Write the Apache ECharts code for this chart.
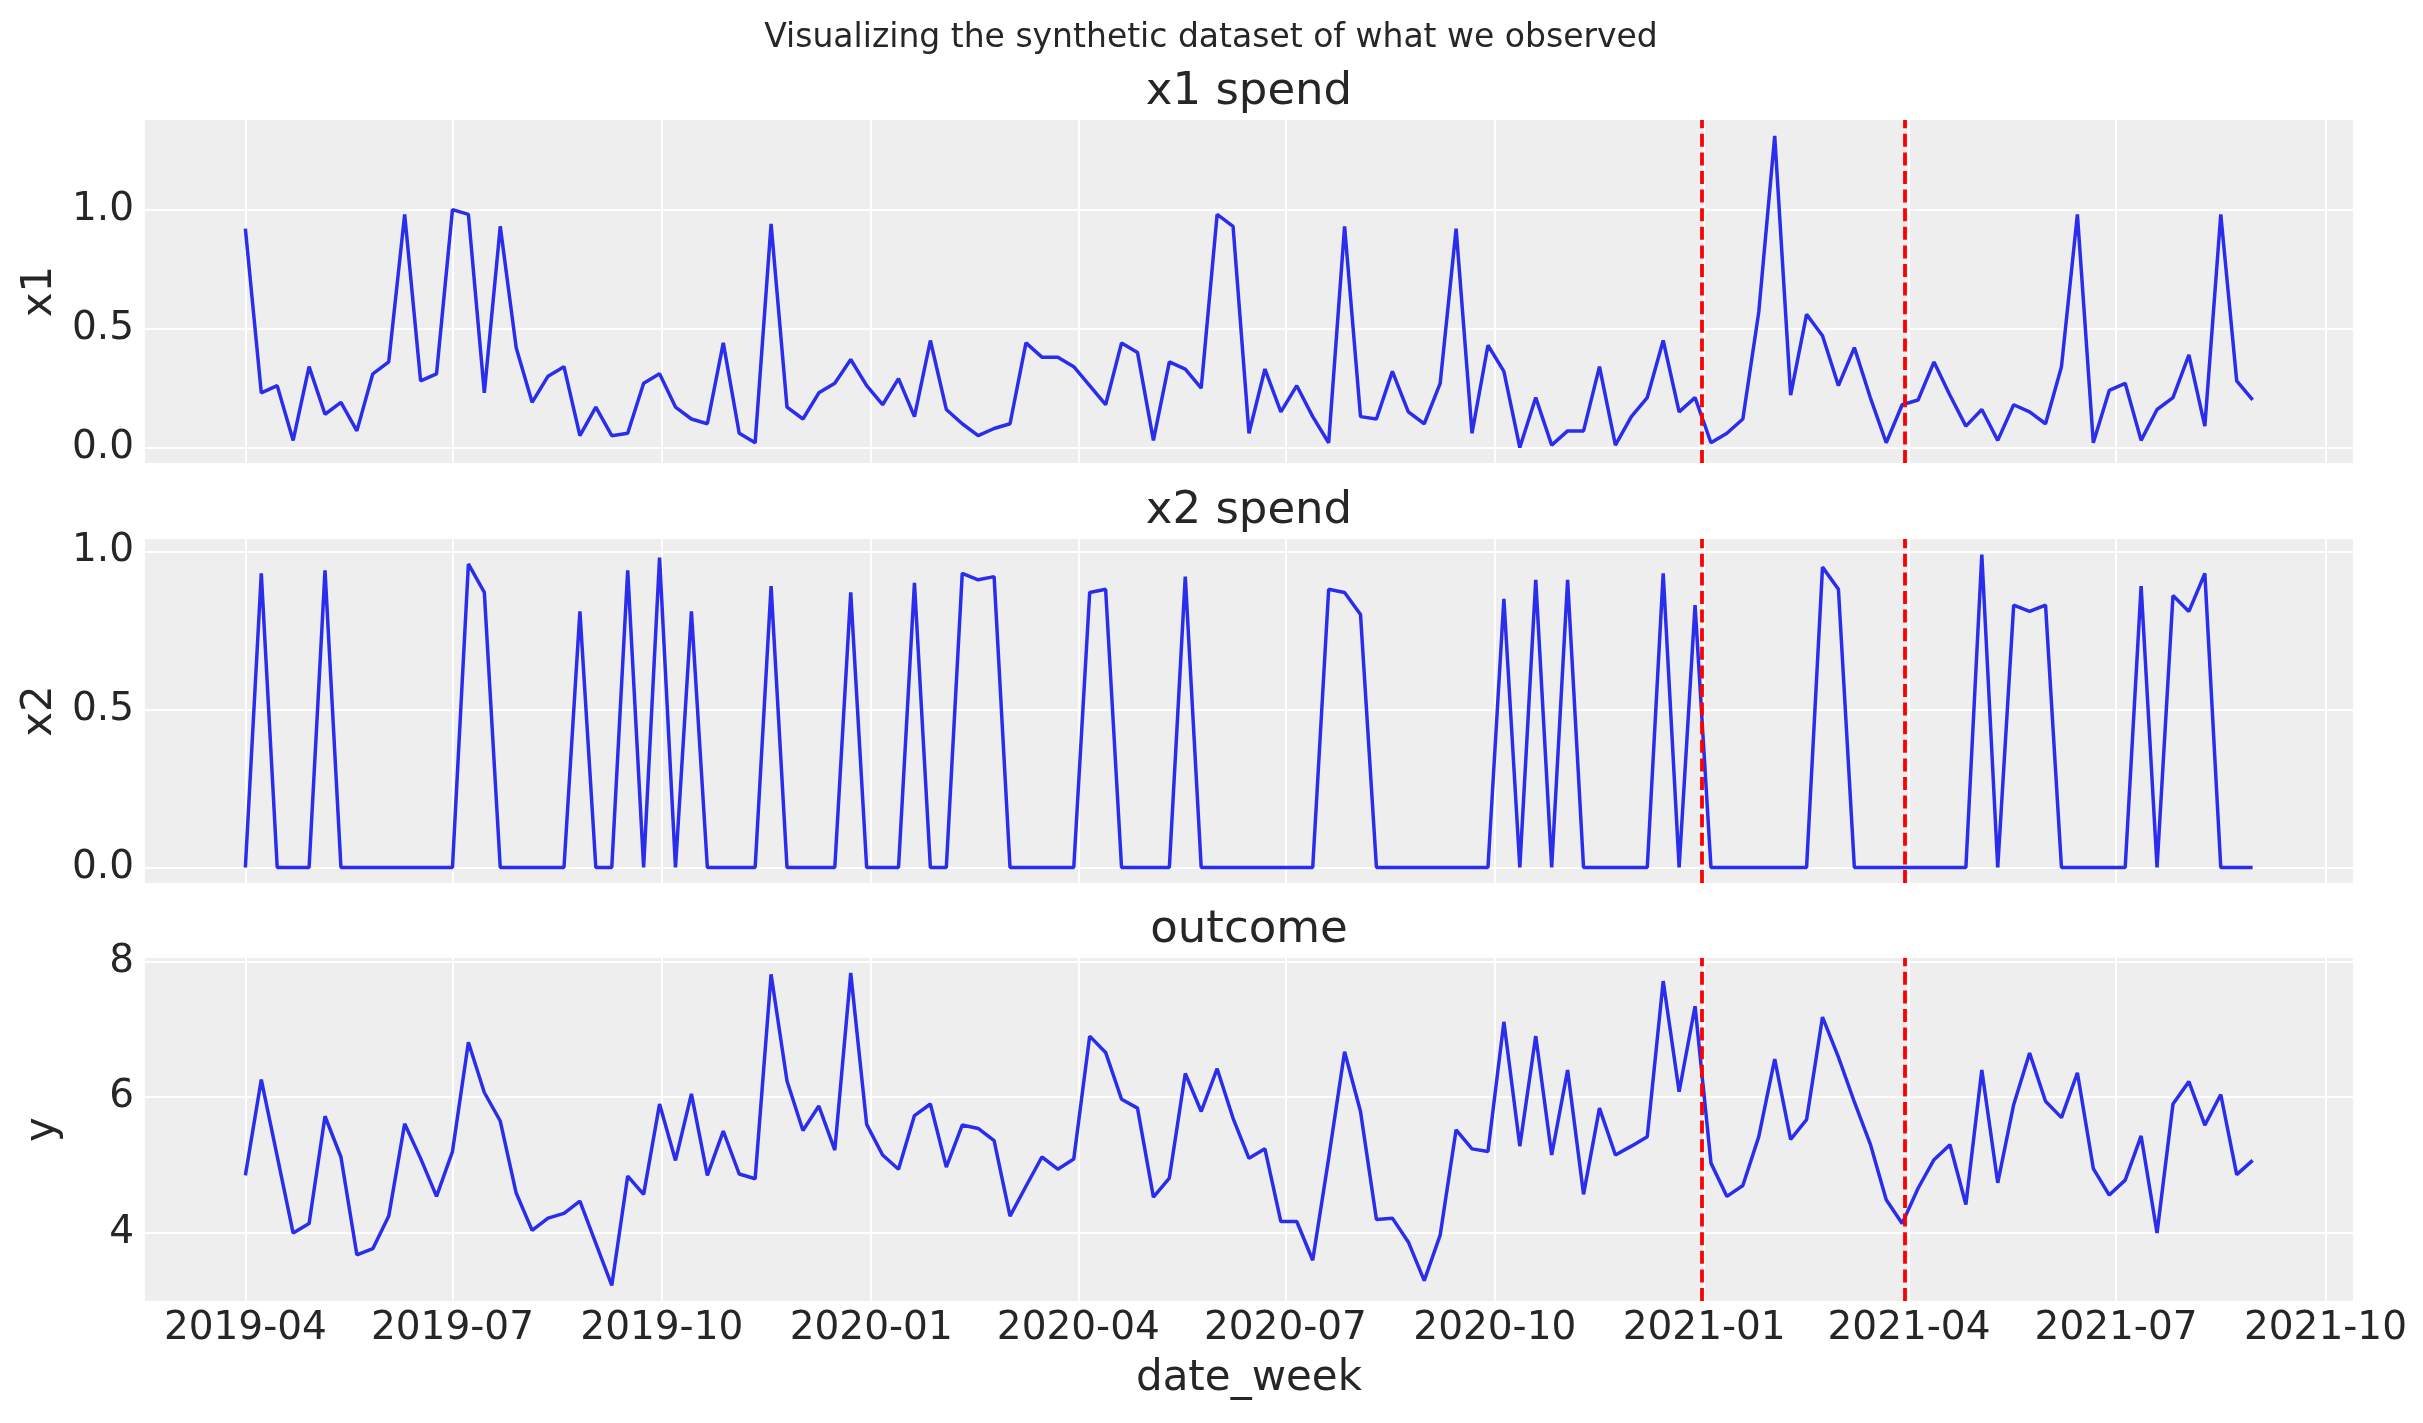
<!DOCTYPE html>
<html>
<head>
<meta charset="utf-8">
<title>Visualizing the synthetic dataset of what we observed</title>
<script src="https://cdn.jsdelivr.net/npm/echarts@6/dist/echarts.min.js"></script>
<style>
  html, body { margin: 0; padding: 0; background: #ffffff; }
  #chart { width: 2423px; height: 1423px; }
</style>
</head>
<body>
<div id="chart"></div>
<script>
// weekly observations, first week 2019-04-01, 127 weeks
var START_WEEK = '2019-04-01';
var N_WEEKS = 127;

var x1Spend = [
  0.92, 0.23, 0.26, 0.03, 0.34, 0.14, 0.19, 0.07, 0.31, 0.36,
  0.98, 0.28, 0.31, 1.00, 0.98, 0.23, 0.93, 0.42, 0.19, 0.30,
  0.34, 0.05, 0.17, 0.05, 0.06, 0.27, 0.31, 0.17, 0.12, 0.10,
  0.44, 0.06, 0.02, 0.94, 0.17, 0.12, 0.23, 0.27, 0.37, 0.26,
  0.18, 0.29, 0.13, 0.45, 0.16, 0.10, 0.05, 0.08, 0.10, 0.44,
  0.38, 0.38, 0.34, 0.26, 0.18, 0.44, 0.40, 0.03, 0.36, 0.33,
  0.25, 0.98, 0.93, 0.06, 0.33, 0.15, 0.26, 0.13, 0.02, 0.93,
  0.13, 0.12, 0.32, 0.15, 0.10, 0.27, 0.92, 0.06, 0.43, 0.32,
  0.00, 0.21, 0.01, 0.07, 0.07, 0.34, 0.01, 0.13, 0.21, 0.45,
  0.15, 0.21, 0.02, 0.06, 0.12, 0.57, 1.31, 0.22, 0.56, 0.47,
  0.26, 0.42, 0.21, 0.02, 0.18, 0.20, 0.36, 0.22, 0.09, 0.16,
  0.03, 0.18, 0.15, 0.10, 0.34, 0.98, 0.02, 0.24, 0.27, 0.03,
  0.16, 0.21, 0.39, 0.09, 0.98, 0.28, 0.20
];

var x2Spend = [
  0, 0.93, 0, 0, 0, 0.94, 0, 0, 0, 0,
  0, 0, 0, 0, 0.96, 0.87, 0, 0, 0, 0,
  0, 0.81, 0, 0, 0.94, 0, 0.98, 0, 0.81, 0,
  0, 0, 0, 0.89, 0, 0, 0, 0, 0.87, 0,
  0, 0, 0.90, 0, 0, 0.93, 0.91, 0.92, 0, 0,
  0, 0, 0, 0.87, 0.88, 0, 0, 0, 0, 0.92,
  0, 0, 0, 0, 0, 0, 0, 0, 0.88, 0.87,
  0.80, 0, 0, 0, 0, 0, 0, 0, 0, 0.85,
  0, 0.91, 0, 0.91, 0, 0, 0, 0, 0, 0.93,
  0, 0.83, 0, 0, 0, 0, 0, 0, 0, 0.95,
  0.88, 0, 0, 0, 0, 0, 0, 0, 0, 0.99,
  0, 0.83, 0.81, 0.83, 0, 0, 0, 0, 0, 0.89,
  0, 0.86, 0.81, 0.93, 0, 0, 0
];

var outcomeY = [
  4.85, 6.26, 5.13, 4.00, 4.14, 5.72, 5.12, 3.68, 3.77, 4.25,
  5.61, 5.10, 4.54, 5.20, 6.81, 6.07, 5.65, 4.59, 4.04, 4.22,
  4.29, 4.47, 3.85, 3.23, 4.84, 4.57, 5.90, 5.07, 6.05, 4.85,
  5.50, 4.87, 4.80, 7.81, 6.24, 5.51, 5.87, 5.22, 7.83, 5.60,
  5.15, 4.94, 5.73, 5.90, 4.97, 5.59, 5.54, 5.36, 4.25, 4.69,
  5.12, 4.94, 5.09, 6.90, 6.66, 5.97, 5.84, 4.53, 4.81, 6.35,
  5.79, 6.42, 5.69, 5.10, 5.24, 4.17, 4.17, 3.60, 5.10, 6.67,
  5.79, 4.20, 4.22, 3.87, 3.30, 3.97, 5.52, 5.24, 5.20, 7.11,
  5.28, 6.90, 5.15, 6.40, 4.57, 5.84, 5.15, 5.28, 5.42, 7.71,
  6.08, 7.34, 5.03, 4.54, 4.70, 5.42, 6.56, 5.38, 5.67, 7.18,
  6.59, 5.93, 5.31, 4.49, 4.14, 4.66, 5.08, 5.30, 4.42, 6.40,
  4.74, 5.89, 6.65, 5.94, 5.70, 6.36, 4.95, 4.56, 4.78, 5.43,
  4.00, 5.90, 6.23, 5.59, 6.04, 4.86, 5.07
];

// tick labels on the date axis and the two split dates
var quarterTicks = ['2019-04-01', '2019-07-01', '2019-10-01', '2020-01-01', '2020-04-01',
                    '2020-07-01', '2020-10-01', '2021-01-01', '2021-04-01', '2021-07-01', '2021-10-01'];
var splitDates = ['2020-12-31', '2021-03-30'];

var panelTitles = ['x1 spend', 'x2 spend', 'outcome'];
var panelYNames = ['x1', 'x2', 'y'];
var panelYTicks = [[0, 0.5, 1.0], [0, 0.5, 1.0], [4, 6, 8]];
var panelYRange = [[-0.065, 1.377], [-0.049, 1.039], [3.0, 8.05]];

var DAY = 86400000;
function utc(s) {
  var p = s.split('-');
  return Date.UTC(+p[0], +p[1] - 1, +p[2]);
}
var dateWeek = [];
for (var i = 0; i < N_WEEKS; i++) {
  dateWeek.push(utc(START_WEEK) + i * 7 * DAY);
}
var span = dateWeek[N_WEEKS - 1] - dateWeek[0];
var xMin = dateWeek[0] - span * 0.05;
var xMax = dateWeek[N_WEEKS - 1] + span * 0.05;
var tickTimes = quarterTicks.map(utc);

function pad(n) { return n < 10 ? '0' + n : '' + n; }
function fmtMonth(v) {
  var d = new Date(v);
  return d.getUTCFullYear() + '-' + pad(d.getUTCMonth() + 1);
}

var FONT = 'DejaVu Sans';
var TEXT = '#262626';
var seriesData = [x1Spend, x2Spend, outcomeY];

var grids = [
  { left: 145, right: 70, top: 120, height: 343 },
  { left: 145, right: 70, top: 539, height: 344 },
  { left: 145, right: 70, top: 958, height: 343 }
];
grids.forEach(function (g) {
  g.show = true;
  g.backgroundColor = '#eeeeee';
  g.borderWidth = 0;
  g.containLabel = false;
});

var titleTops = [70, 489, 908];
var titles = [{
  text: 'Visualizing the synthetic dataset of what we observed',
  left: 1211, top: 22, textAlign: 'center', padding: 0,
  textStyle: { fontFamily: FONT, fontSize: 33, fontWeight: 'normal', color: TEXT }
}];
panelTitles.forEach(function (t, k) {
  titles.push({
    text: t, left: 1249, top: titleTops[k], textAlign: 'center', padding: 0,
    textStyle: { fontFamily: FONT, fontSize: 45, fontWeight: 'normal', color: TEXT }
  });
});

var xAxes = [], yAxes = [], series = [];
for (var k = 0; k < 3; k++) {
  xAxes.push({
    type: 'value', gridIndex: k, min: xMin, max: xMax,
    axisLine: { show: false },
    axisTick: { show: false, customValues: tickTimes },
    axisLabel: {
      show: k === 2, customValues: tickTimes, formatter: fmtMonth,
      fontFamily: FONT, fontSize: 39, color: TEXT, margin: 8
    },
    splitLine: { show: true, lineStyle: { color: '#ffffff', width: 2 } },
    name: k === 2 ? 'date_week' : '',
    nameLocation: 'middle', nameGap: 57,
    nameTextStyle: { fontFamily: FONT, fontSize: 42, color: TEXT }
  });
  yAxes.push({
    type: 'value', gridIndex: k,
    min: panelYRange[k][0], max: panelYRange[k][1],
    axisLine: { show: false },
    axisTick: { show: false, customValues: panelYTicks[k] },
    axisLabel: {
      customValues: panelYTicks[k],
      formatter: k === 2 ? function (v) { return String(Math.round(v)); } : function (v) { return v.toFixed(1); },
      fontFamily: FONT, fontSize: 39, color: TEXT, margin: 11
    },
    splitLine: { show: true, lineStyle: { color: '#ffffff', width: 2 } },
    name: panelYNames[k], nameLocation: 'middle', nameGap: 81,
    nameTextStyle: { fontFamily: FONT, fontSize: 42, color: TEXT }
  });
  series.push({
    type: 'line', xAxisIndex: k, yAxisIndex: k,
    data: dateWeek.map(function (t, i) { return [t, seriesData[k][i]]; }),
    symbol: 'none', lineStyle: { color: '#2a2eec', width: 3.5 },
    markLine: {
      silent: true, symbol: ['none', 'none'], label: { show: false },
      lineStyle: { color: '#ff0000', width: 3.8, type: [13, 5.6], opacity: 1 },
      data: splitDates.map(function (d) { return { xAxis: utc(d) }; })
    }
  });
}

var chart = echarts.init(document.getElementById('chart'), null, { renderer: 'canvas' });
chart.setOption({
  animation: false,
  backgroundColor: '#ffffff',
  title: titles,
  grid: grids,
  xAxis: xAxes,
  yAxis: yAxes,
  series: series
});
</script>
</body>
</html>
